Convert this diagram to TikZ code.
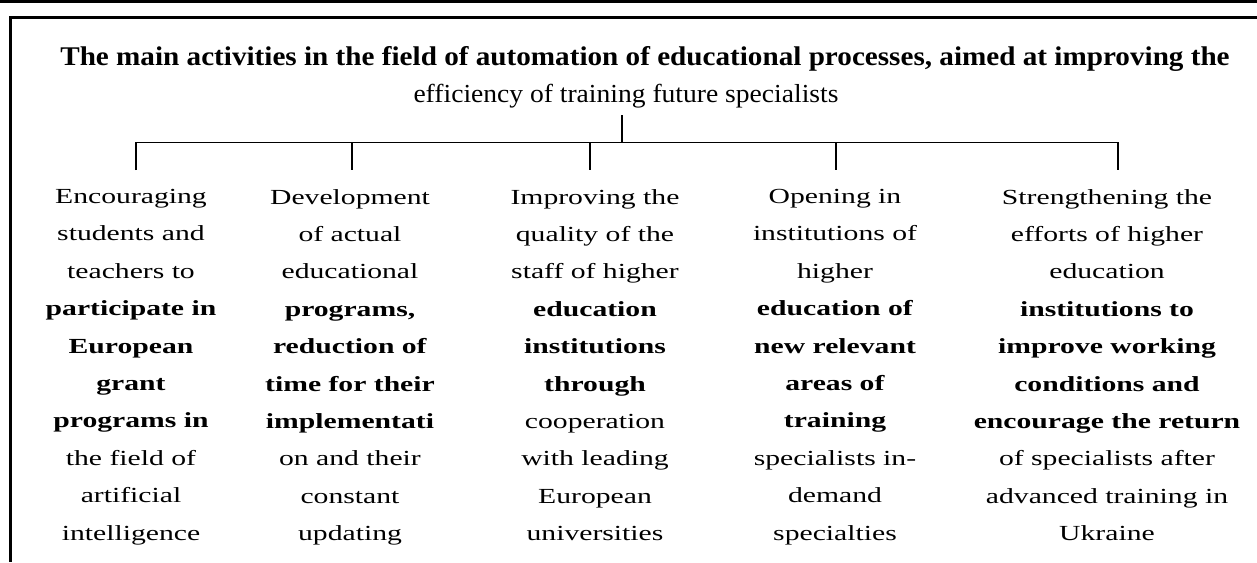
\documentclass[tikz,border=0pt]{standalone}
\usepackage{fontspec}
\setmainfont{Liberation Serif}
\newfontfamily\bodyf[FakeStretch=1.38]{Liberation Serif}
\newfontfamily\titlef[FakeStretch=1.06]{Liberation Serif}
\newfontfamily\titleb[FakeStretch=1.08]{Liberation Serif}
\begin{document}
\begin{tikzpicture}[x=1pt,y=1pt,
  frame/.style={line width=2.6pt},
  conn/.style={line width=1.2pt},
  body/.style={anchor=north,inner sep=0pt,align=center,font=\bodyf\fontsize{21.5}{37.4}\selectfont},
  ttl/.style={anchor=north,inner sep=0pt,align=center,font=\titlef\fontsize{26}{37.5}\selectfont}]
\useasboundingbox (0,0) rectangle (1257,-562);
% frame
\coordinate (fa) at (0,-1.3);
\coordinate (fb) at (1257,-1.3);
\coordinate (fc) at (10.5,-17.5);
\coordinate (fd) at (1257,-17.5);
\coordinate (fe) at (10.5,-562);
\draw[frame] (fa) -- (fb);
\draw[frame] (fd) -- (fc) -- (fe);
% title
\node[ttl] (T) at (645,-46) {{\titleb\fontsize{27}{37.5}\selectfont\bfseries The main activities in the field of automation of educational processes, aimed at improving the}\\\hspace*{-38pt}efficiency of training future specialists};
% connectors
\coordinate (s) at (622,-115);
\coordinate (J) at (622,-142.3);
\coordinate (h1) at (136,-142.3);
\coordinate (h2) at (352,-142.3);
\coordinate (h3) at (590,-142.3);
\coordinate (h4) at (836,-142.3);
\coordinate (h5) at (1118,-142.3);
\coordinate (d1) at (136,-170);
\coordinate (d2) at (352,-170);
\coordinate (d3) at (590,-170);
\coordinate (d4) at (836,-170);
\coordinate (d5) at (1118,-170);
\draw[conn] (s) -- (J);
\draw[conn] (d1) -- (h1) -- (h5) -- (d5);
\draw[conn] (h2) -- (d2);
\draw[conn] (h3) -- (d3);
\draw[conn] (h4) -- (d4);
% columns
\node[body] (c1) at (131,-189) {Encouraging\\students and\\teachers to\\\textbf{participate in}\\\textbf{European}\\\textbf{grant}\\\textbf{programs in}\\the field of\\artificial\\intelligence};
\node[body] (c2) at (350,-189) {Development\\of actual\\educational\\\textbf{programs,}\\\textbf{reduction of}\\\textbf{time for their}\\\textbf{implementati}\\on and their\\constant\\updating};
\node[body] (c3) at (595,-189) {Improving the\\quality of the\\staff of higher\\\textbf{education}\\\textbf{institutions}\\\textbf{through}\\cooperation\\with leading\\European\\universities};
\node[body] (c4) at (835,-189) {Opening in\\institutions of\\higher\\\textbf{education of}\\\textbf{new relevant}\\\textbf{areas of}\\\textbf{training}\\specialists in-\\demand\\specialties};
\node[body] (c5) at (1107,-189) {Strengthening the\\efforts of higher\\education\\\textbf{institutions to}\\\textbf{improve working}\\\textbf{conditions and}\\\textbf{encourage the return}\\of specialists after\\advanced training in\\Ukraine};
\end{tikzpicture}
\end{document}
